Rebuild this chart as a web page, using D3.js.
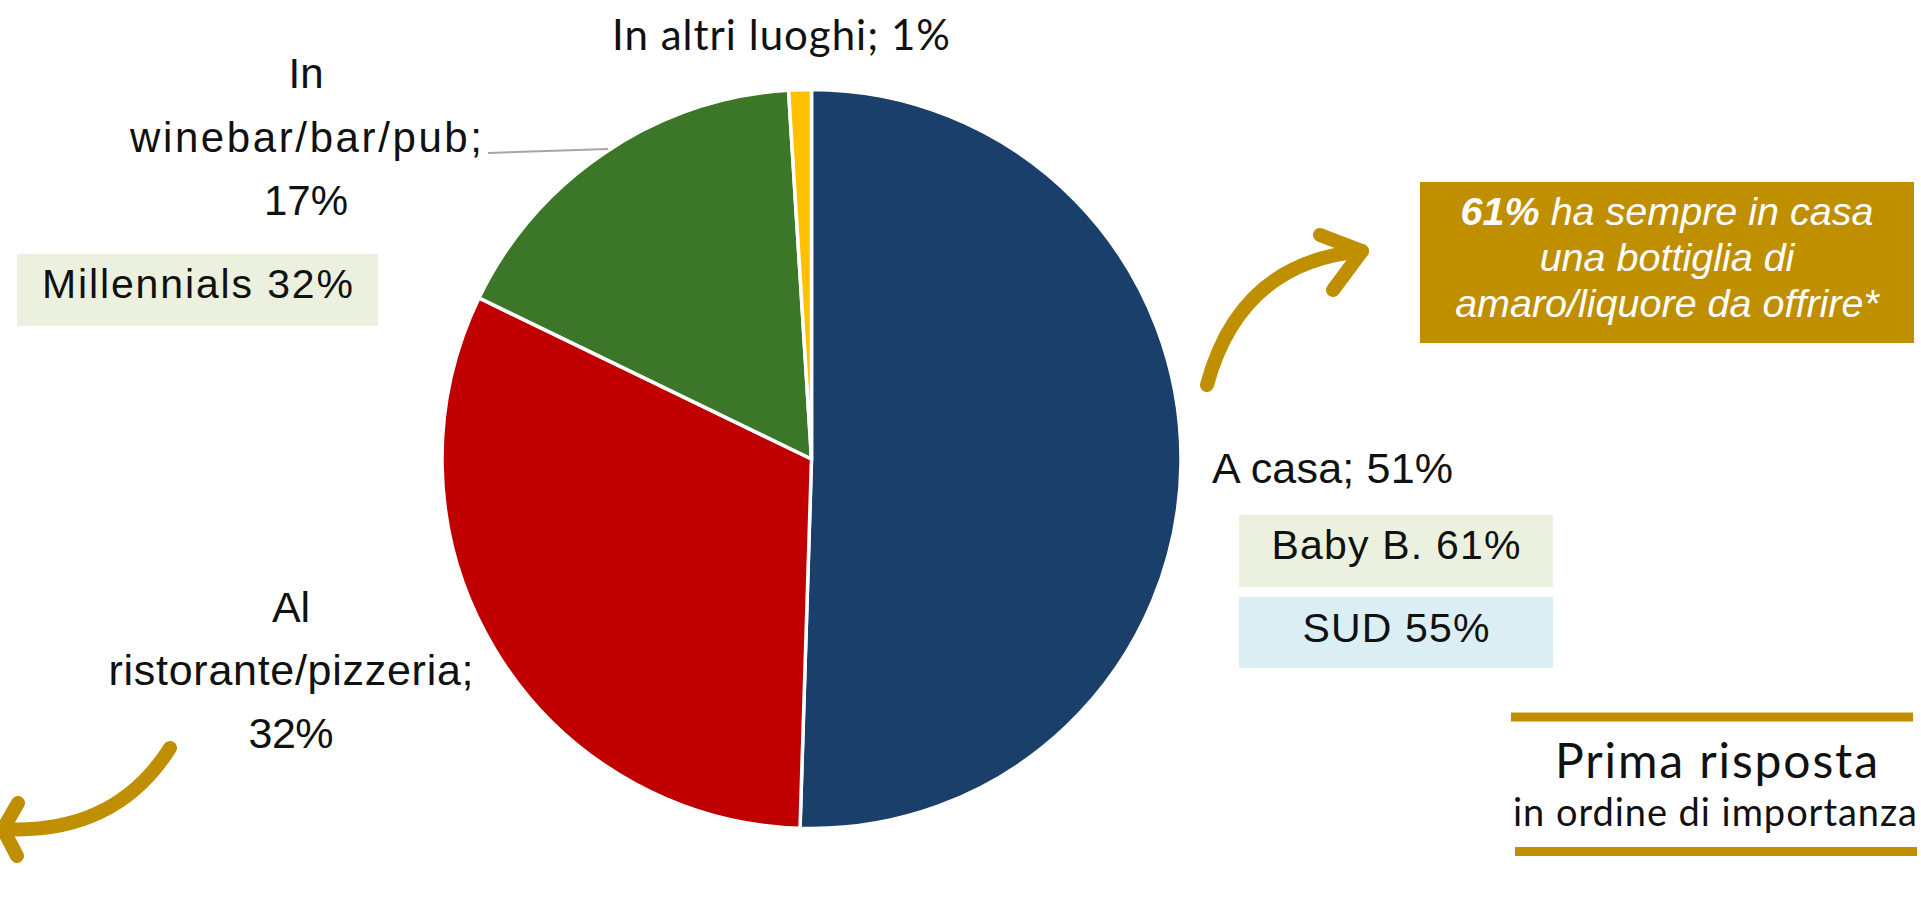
<!DOCTYPE html>
<html lang="it">
<head>
<meta charset="utf-8">
<title>Dove si consuma – Prima risposta</title>
<script src="https://cdn.jsdelivr.net/npm/d3@7/dist/d3.min.js"></script>
<style>
  html, body { margin: 0; padding: 0; background: #ffffff; }
  svg { display: block; }
  .lbl { font-family: "Liberation Sans", Arial, sans-serif; fill: #111111; }
  .light { font-family: Lato, "Open Sans", sans-serif; font-weight: 400; fill: #111111; }
  .note { font-family: "Liberation Sans", Arial, sans-serif; font-style: italic; fill: #ffffff; }
</style>
</head>
<body>
<svg id="chart" width="1921" height="909"></svg>
<script>
// ---- data ----
const categories = ["A casa", "Al ristorante/pizzeria", "In winebar/bar/pub", "In altri luoghi"];
const shares = [51, 32, 17, 1];
const sliceColors = ["#1b3f6b", "#c00000", "#3c7629", "#ffc000"];

const segmentNames = ["Millennials", "Baby B.", "SUD"];
const segmentValues = [32, 61, 55];

const noteValue = 61;
const noteLines = ["ha sempre in casa", "una bottiglia di", "amaro/liquore da offrire*"];

const titleLines = ["Prima risposta", "in ordine di importanza"];

// ---- layout ----
const W = 1921, H = 909;
const pieCenter = { x: 811.5, y: 459 };
const pieRadius = 369.5;
const gold = "#bf8f00";

// label placement per slice: anchor x, first baseline, line gap, size, wrapped?, text width
const labelLayout = [
  { x: 1212, y: 483, anchor: "start",  size: 43, wrap: false, widths: [241], cls: "lbl" },
  { x: 291,  y: 622, anchor: "middle", size: 43, wrap: true,  gap: 63, widths: [null, 365, 85], cls: "lbl" },
  { x: 306,  y: 88,  anchor: "middle", size: 42, wrap: true,  gap: 63.5, widths: [null, 352, 84], cls: "lbl" },
  { x: 781,  y: 50,  anchor: "middle", size: 42, wrap: false, widths: [338], cls: "light" }
];

// segment highlight boxes
const segmentLayout = [
  { x0: 17,   x1: 378,  y0: 254, y1: 326, fill: "#ebf1de", base: 298, width: 311 },
  { x0: 1239, x1: 1553, y0: 515, y1: 587, fill: "#ebf1de", base: 559, width: 249 },
  { x0: 1239, x1: 1553, y0: 597, y1: 668, fill: "#daeef3", base: 642, width: 187 }
];

const svg = d3.select("#chart");

// ---- pie ----
const pie = d3.pie().sort(null).value(d => d).startAngle(0).endAngle(2 * Math.PI);
const arc = d3.arc().innerRadius(0).outerRadius(pieRadius);
const arcs = pie(shares);

const gPie = svg.append("g").attr("transform", `translate(${pieCenter.x},${pieCenter.y})`);
gPie.selectAll("path.slice")
  .data(arcs)
  .join("path")
  .attr("class", "slice")
  .attr("d", arc)
  .attr("fill", (d, i) => sliceColors[i])
  .attr("stroke", "#ffffff")
  .attr("stroke-width", 3.5)
  .attr("stroke-linejoin", "round");

// ---- slice labels ----
function labelLines(i) {
  const name = categories[i];
  const pct = shares[i] + "%";
  if (!labelLayout[i].wrap) return [name + "; " + pct];
  const cut = name.indexOf(" ");
  return [name.slice(0, cut), name.slice(cut + 1) + ";", pct];
}

categories.forEach((c, i) => {
  const L = labelLayout[i];
  const lines = labelLines(i);
  const t = svg.append("g").attr("class", "slice-label");
  lines.forEach((line, k) => {
    const tx = t.append("text")
      .attr("class", L.cls)
      .attr("x", L.x)
      .attr("y", L.y + k * (L.gap || 0))
      .attr("text-anchor", L.anchor)
      .attr("font-size", L.size)
      .text(line);
    if (L.widths[k]) tx.attr("textLength", L.widths[k]).attr("lengthAdjust", "spacing");
  });
});

// leader line for the winebar label
svg.append("line")
  .attr("x1", 488).attr("y1", 153)
  .attr("x2", 608).attr("y2", 149)
  .attr("stroke", "#a6a6a6")
  .attr("stroke-width", 2);

// ---- segment boxes ----
segmentNames.forEach((name, i) => {
  const S = segmentLayout[i];
  svg.append("rect")
    .attr("x", S.x0).attr("y", S.y0)
    .attr("width", S.x1 - S.x0).attr("height", S.y1 - S.y0)
    .attr("fill", S.fill);
  svg.append("text")
    .attr("class", "lbl")
    .attr("x", (S.x0 + S.x1) / 2)
    .attr("y", S.base)
    .attr("text-anchor", "middle")
    .attr("font-size", 41)
    .attr("textLength", S.width)
    .attr("lengthAdjust", "spacing")
    .text(name + " " + segmentValues[i] + "%");
});

// ---- gold note box ----
const note = { x0: 1420, x1: 1914, y0: 182, y1: 343, base: 225, gap: 46 };
svg.append("rect")
  .attr("x", note.x0).attr("y", note.y0)
  .attr("width", note.x1 - note.x0).attr("height", note.y1 - note.y0)
  .attr("fill", gold);
noteLines.forEach((line, k) => {
  const t = svg.append("text")
    .attr("class", "note")
    .attr("x", (note.x0 + note.x1) / 2)
    .attr("y", note.base + k * note.gap)
    .attr("text-anchor", "middle")
    .attr("font-size", 39.5);
  if (k === 0) {
    t.append("tspan").attr("font-weight", "bold").text(noteValue + "%");
    t.append("tspan").text(" " + line);
  } else {
    t.text(line);
  }
});

// ---- curved arrows ----
function drawArrow(p0, c, p1, armA, armB) {
  const p = d3.path();
  p.moveTo(p0[0], p0[1]);
  p.quadraticCurveTo(c[0], c[1], p1[0], p1[1]);
  svg.append("path")
    .attr("d", p.toString())
    .attr("fill", "none")
    .attr("stroke", gold)
    .attr("stroke-width", 14)
    .attr("stroke-linecap", "round");
  const h = d3.path();
  h.moveTo(armA[0], armA[1]);
  h.lineTo(p1[0], p1[1]);
  h.lineTo(armB[0], armB[1]);
  svg.append("path")
    .attr("d", h.toString())
    .attr("fill", "none")
    .attr("stroke", gold)
    .attr("stroke-width", 14)
    .attr("stroke-linecap", "round")
    .attr("stroke-linejoin", "round");
}
drawArrow([1207, 385], [1240, 262], [1362, 251], [1320, 235], [1333, 290]);
drawArrow([170, 748], [115, 835], [3, 829], [18, 803], [17, 856]);

// ---- title block ----
svg.append("line")
  .attr("x1", 1511).attr("x2", 1913).attr("y1", 717).attr("y2", 717)
  .attr("stroke", gold).attr("stroke-width", 9);
svg.append("line")
  .attr("x1", 1515).attr("x2", 1917).attr("y1", 851.5).attr("y2", 851.5)
  .attr("stroke", gold).attr("stroke-width", 9);
svg.append("text")
  .attr("class", "light")
  .attr("x", 1716.5).attr("y", 778)
  .attr("text-anchor", "middle")
  .attr("font-size", 48)
  .attr("textLength", 323).attr("lengthAdjust", "spacing")
  .text(titleLines[0]);
svg.append("text")
  .attr("class", "light")
  .attr("x", 1715).attr("y", 826)
  .attr("text-anchor", "middle")
  .attr("font-size", 38)
  .attr("textLength", 404).attr("lengthAdjust", "spacing")
  .text(titleLines[1]);
</script>
</body>
</html>
